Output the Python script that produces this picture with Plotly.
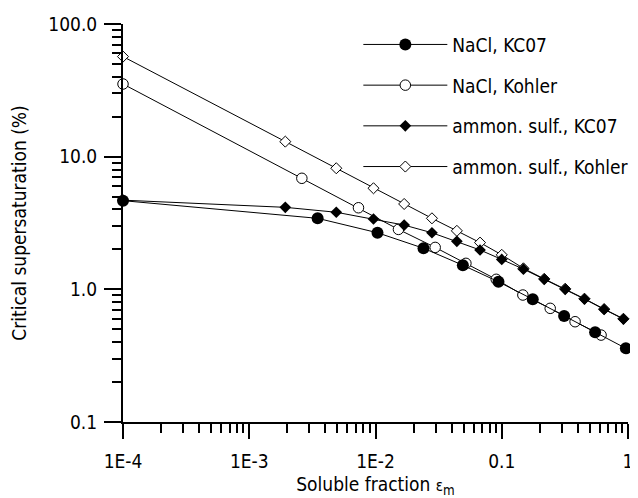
import plotly.graph_objects as go

# NaCl, KC07 (filled circles)
nacl_kc_x = [1e-4, 0.00348, 0.01037, 0.0240, 0.0492, 0.0942, 0.176, 0.312, 0.549, 0.962]
nacl_kc_y = [4.66, 3.43, 2.67, 2.04, 1.52, 1.14, 0.841, 0.629, 0.474, 0.359]

# NaCl, Kohler (open circles)
nacl_ko_x = [1e-4, 0.00261, 0.00733, 0.0152, 0.0297, 0.0520, 0.0904, 0.147, 0.242, 0.381, 0.612]
nacl_ko_y = [35.3, 6.87, 4.12, 2.83, 2.07, 1.57, 1.19, 0.906, 0.719, 0.570, 0.452]

# ammon. sulf., KC07 (filled diamonds)
as_kc_x = [1e-4, 0.00193, 0.00489, 0.00964, 0.01687, 0.0280, 0.0441, 0.0673, 0.100, 0.1485,
           0.217, 0.318, 0.452, 0.647, 0.920]
as_kc_y = [4.7, 4.15, 3.81, 3.39, 3.05, 2.67, 2.30, 1.98, 1.68, 1.42,
           1.19, 1.00, 0.845, 0.706, 0.597]

# ammon. sulf., Kohler (open diamonds)
as_ko_x = [1e-4, 0.00193, 0.00489, 0.00964, 0.01687, 0.0280, 0.0441, 0.0673, 0.100, 0.1485,
           0.217, 0.318, 0.452, 0.647, 0.920]
as_ko_y = [56.8, 12.98, 8.18, 5.78, 4.40, 3.43, 2.76, 2.25, 1.82, 1.44,
           1.20, 1.01, 0.85, 0.71, 0.60]

x_tickvals = [1e-4, 1e-3, 1e-2, 0.1, 1]
x_ticktext = ["1E-4", "1E-3", "1E-2", "0.1", "1"]
y_tickvals = [0.1, 1, 10, 100]
y_ticktext = ["0.1", "1.0", "10.0", "100.0"]

FONT = "DejaVu Sans Condensed, DejaVu Sans, sans-serif"
FS = 19

fig = go.Figure()
line = dict(color="black", width=1)

fig.add_trace(go.Scatter(x=nacl_ko_x, y=nacl_ko_y, mode="lines+markers", name="NaCl, Kohler",
                         line=line, legendrank=2, legendgroup="b",
                         marker=dict(symbol="circle", size=10.5, color="white",
                                     line=dict(color="black", width=1))))
fig.add_trace(go.Scatter(x=as_ko_x, y=as_ko_y, mode="lines+markers", name="ammon. sulf., Kohler",
                         line=line, legendrank=4, legendgroup="d",
                         marker=dict(symbol="diamond", size=8.5, color="white",
                                     line=dict(color="black", width=1))))
fig.add_trace(go.Scatter(x=nacl_kc_x, y=nacl_kc_y, mode="lines+markers", name="NaCl, KC07",
                         line=line, legendrank=1, legendgroup="a",
                         marker=dict(symbol="circle", size=12, color="black")))
fig.add_trace(go.Scatter(x=as_kc_x, y=as_kc_y, mode="lines+markers", name="ammon. sulf., KC07",
                         line=line, legendrank=3, legendgroup="c",
                         marker=dict(symbol="diamond", size=9, color="black")))

minor_x = [m * 10.0 ** e for e in range(-4, 0) for m in range(2, 10)]
minor_y = [m * 10.0 ** e for e in range(-1, 2) for m in range(2, 10)]

fig.update_traces(cliponaxis=False)

# page body has an 8px margin, so the figure is 8px smaller than the window
fig.update_layout(
    width=630, height=490,
    margin=dict(l=115, r=10, t=16, b=76, autoexpand=False),
    paper_bgcolor="white", plot_bgcolor="white",
    font=dict(family=FONT, size=FS, color="black"),
    showlegend=True,
    legend=dict(x=0.466, y=0.996, xanchor="left", yanchor="top",
                traceorder="grouped", tracegroupgap=13, itemwidth=84,
                bgcolor="rgba(0,0,0,0)", font=dict(family=FONT, size=FS)),
    xaxis=dict(type="log", range=[-4, 0], tickmode="array", tickvals=x_tickvals,
               ticktext=x_ticktext, showgrid=False, zeroline=False, automargin=False,
               showline=True, linecolor="black", linewidth=2,
               ticks="outside", ticklen=15, tickwidth=2, tickcolor="black",
               ticklabelstandoff=6,
               minor=dict(tickmode="array", tickvals=minor_x, ticks="outside",
                          ticklen=9, tickwidth=1.5, tickcolor="black", showgrid=False),
               title=dict(text="Soluble fraction <span style='font-size:15px'>ε</span><sub>m</sub>",
                          standoff=10, font=dict(size=FS))),
    yaxis=dict(type="log", range=[-1, 2], tickmode="array", tickvals=y_tickvals,
               ticktext=y_ticktext, showgrid=False, zeroline=False, automargin=False,
               showline=True, linecolor="black", linewidth=2,
               ticks="outside", ticklen=17, tickwidth=2, tickcolor="black",
               ticklabelstandoff=3,
               minor=dict(tickmode="array", tickvals=minor_y, ticks="outside",
                          ticklen=9, tickwidth=1.5, tickcolor="black", showgrid=False),
               title=dict(text="Critical supersaturation (%)", standoff=27, font=dict(size=FS))),
)

fig.write_html("out.html")
